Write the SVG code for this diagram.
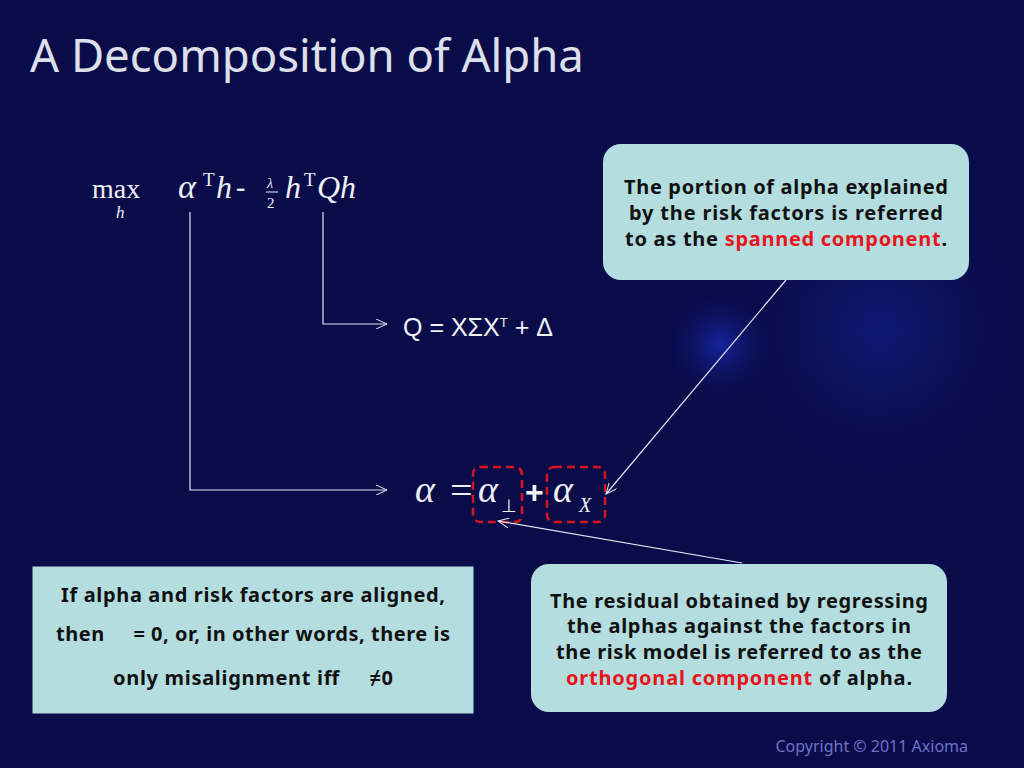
<svg xmlns="http://www.w3.org/2000/svg" width="1024" height="768" viewBox="0 0 1024 768">
<defs>
<radialGradient id="glow" cx="720" cy="345" r="60" gradientUnits="userSpaceOnUse"><stop offset="0" stop-color="#1524a0"/><stop offset="1" stop-color="#0a0c4a" stop-opacity="0"/></radialGradient>
<radialGradient id="glow2" cx="880" cy="330" r="160" gradientUnits="userSpaceOnUse"><stop offset="0" stop-color="#0f1a78"/><stop offset="1" stop-color="#0a0c4a" stop-opacity="0"/></radialGradient>
<marker id="ah" markerWidth="12" markerHeight="10" refX="11" refY="5" orient="auto" markerUnits="userSpaceOnUse"><path d="M0,0 L11,5 L0,10" fill="none" stroke="#e0e6f0" stroke-width="1"/></marker>
</defs>
<style>
.box{fill:#b4dde0;stroke:#0a0c4a}
.call{fill:#b4dde0}
.bt{font-family:"Noto Sans",sans-serif;font-weight:bold;font-size:20px;fill:#111;text-anchor:middle}
.red{fill:#e8141c}
.m{font-family:"Liberation Serif","Times New Roman",serif;fill:#eef0f6}
.i{font-style:italic}
.c{stroke:#e0e6f0;stroke-width:1.2;fill:none}
.dash{fill:none;stroke:#d8141c;stroke-width:2.5;stroke-dasharray:8 5}
</style>
<rect width="1024" height="768" fill="#0a0c4a"/>
<rect width="1024" height="768" fill="url(#glow2)"/>
<rect width="1024" height="768" fill="url(#glow)"/>
<text x="30" y="72" font-family="Noto Sans,sans-serif" font-size="45.5" fill="#dde0ea">A Decomposition of Alpha</text>
<g id="objective">
<text class="m" x="92" y="198" font-size="28">max</text>
<text class="m i" x="116" y="218" font-size="17">h</text>
<text class="m i" x="178" y="198" font-size="34">α</text>
<text class="m" x="203" y="186" font-size="19">T</text>
<text class="m i" x="216" y="198" font-size="32">h</text>
<text class="m" x="236" y="196" font-size="28" font-weight="bold">-</text>
<text class="m i" x="267" y="188" font-size="14">λ</text>
<line x1="266" y1="192" x2="278" y2="192" stroke="#eef0f6" stroke-width="1"/>
<text class="m" x="267" y="208" font-size="15">2</text>
<text class="m i" x="285" y="198" font-size="32">h</text>
<text class="m" x="304" y="186" font-size="19">T</text>
<text class="m i" x="317" y="198" font-size="32">Qh</text>
</g>
<g id="qeq"><text x="403" y="336" font-family="Liberation Sans,sans-serif" font-size="25" fill="#eef0f6">Q = XΣX<tspan font-size="13" dy="-9">T</tspan><tspan dy="9"> + Δ</tspan></text></g>
<g id="alphaeq">
<text class="m i" x="415" y="502" font-size="38">α</text>
<text class="m" x="450" y="504" font-size="40">=</text>
<text class="m i" x="478" y="502" font-size="38">α</text>
<text class="m" x="501" y="512" font-size="18">⊥</text>
<text x="525" y="503" font-family="Liberation Sans,sans-serif" font-size="32" font-weight="bold" fill="#eef0f6">+</text>
<text class="m i" x="553" y="502" font-size="38">α</text>
<text class="m i" x="579" y="512" font-size="20">X</text>
<rect class="dash" x="473" y="467" width="49" height="55" rx="7"/>
<rect class="dash" x="547" y="467" width="58" height="55" rx="7"/>
</g>
<g id="connectors">
<polyline class="c" points="323,212 323,324 387,324" marker-end="url(#ah)"/>
<polyline class="c" points="190,212 190,490 387,490" marker-end="url(#ah)"/>
<line class="c" x1="786" y1="280" x2="606" y2="494" marker-end="url(#ah)"/>
<line class="c" x1="742" y1="563" x2="498" y2="521" marker-end="url(#ah)"/>
</g>
<g id="spanned">
<rect class="call" x="603" y="144" width="366" height="136" rx="18"/>
<text class="bt" x="786" y="194" textLength="324">The portion of alpha explained</text>
<text class="bt" x="786" y="220" textLength="314">by the risk factors is referred</text>
<text class="bt" x="786" y="246" textLength="322">to as the <tspan class="red">spanned component</tspan>.</text>
</g>
<g id="orthogonal">
<rect class="call" x="531" y="564" width="416" height="148" rx="18"/>
<text class="bt" x="739" y="608" textLength="378">The residual obtained by regressing</text>
<text class="bt" x="739" y="633" textLength="344">the alphas against the factors in</text>
<text class="bt" x="739" y="659" textLength="366">the risk model is referred to as the</text>
<text class="bt" x="739" y="685" textLength="346"><tspan class="red">orthogonal component</tspan> of alpha.</text>
</g>
<g id="aligned">
<rect class="box" x="32" y="566" width="442" height="148"/>
<text class="bt" x="253" y="602" textLength="384">If alpha and risk factors are aligned,</text>
<text class="bt" x="253" y="641" xml:space="preserve" textLength="394">then     = 0, or, in other words, there is</text>
<text class="bt" x="253" y="685" xml:space="preserve" textLength="280">only misalignment iff     ≠0</text>
</g>
<text x="968" y="752" font-family="Noto Sans,sans-serif" font-size="16" fill="#7070c8" text-anchor="end">Copyright © 2011 Axioma</text>
</svg>
